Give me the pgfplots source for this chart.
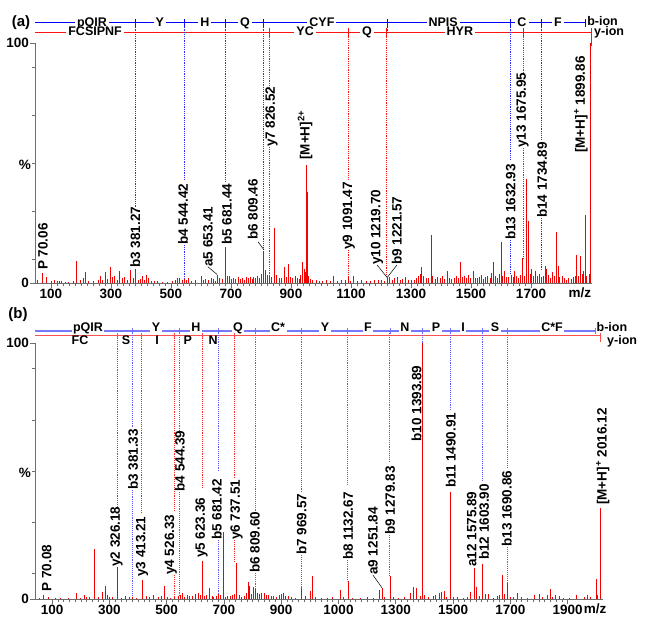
\documentclass[border=0pt]{standalone}
\usepackage{fontspec}
\setmainfont{Liberation Sans}
\usepackage{pgfplots}
\pgfplotsset{compat=1.18}
\definecolor{pkred}{RGB}{245,0,0}
\definecolor{ionblue}{RGB}{0,0,255}
\definecolor{ionred}{RGB}{250,20,20}
\definecolor{lblue}{RGB}{120,120,255}
\definecolor{lred}{RGB}{255,80,80}
\definecolor{dotblue}{RGB}{40,40,255}
\definecolor{dotblueb}{RGB}{90,90,255}
\definecolor{dred}{RGB}{255,40,40}
\definecolor{axgray}{RGB}{110,110,110}
\begin{document}
\begin{tikzpicture}[x=1pt,y=1pt,font=\fontsize{13.5}{15}\selectfont\bfseries]
\useasboundingbox (0,0) rectangle (645,627);
\pgfplotsset{
  msstyle/.style={
    scale only axis, clip=false,
    axis x line*=bottom, axis y line*=left,
    axis line style={axgray, line width=0.8pt},
    tick align=outside,
    ymin=0, ymax=100, ytick={0,100}, minor ytick={10,30,50,70,90},
    major tick length=5pt, minor tick length=3pt,
    every tick/.style={axgray, line width=0.6pt},
    minor x tick num=9,
    /pgf/number format/assume math mode=true,
    /pgf/number format/1000 sep={},
    ticklabel style={font=\fontsize{13.5}{15}\selectfont\bfseries},
    xticklabel style={inner sep=1pt},
    yticklabel style={inner sep=1pt},
    unbounded coords=jump,
  },
  pk/.style={ycomb, no marks, color=pkred, line width=0.7pt},
  dotb/.style={color=dotblue, line width=1.0pt, dash pattern=on 1.2pt off 1pt},
  dotr/.style={color=ionred, line width=0.9pt, dash pattern=on 1.2pt off 1pt},
  dotlb/.style={color=dotblueb, line width=1.0pt, dash pattern=on 1.1pt off 1pt},
  dotlr/.style={color=dred, line width=0.9pt, dash pattern=on 1.1pt off 1pt},
}
\tikzset{
  lab/.style={rotate=90, anchor=west, inner sep=0pt},
  seqa/.style={fill=white, inner xsep=2pt, inner ysep=0.3pt, text height=0.72em, text depth=0pt, font=\fontsize{12.5}{14}\selectfont\bfseries},
}

% ---------------- panel (a) ----------------
\begin{axis}[msstyle, at={(35pt,343.7pt)}, anchor=south west,
  width=557pt, height=240pt, xmin=46.7, xmax=1903.3,
  xtick={100,300,...,1700}]
\addplot[pk] coordinates {
(55,1.2) (72,4.4) (86,2.8) (101,0.8) (112,1.3) (120,1.0) (129,1.1) (136,0.9) (147,0.7) (158,0.6)
(175,0.8) (186,9.4) (199,1.2) (208,2.0) (213,4.6) (226,1.1) (241,0.9) (257,1.2) (263,3.0) (270,1.5)
(280,4.7) (289,1.8) (299,6.6) (305,2.5) (311,3.0) (320,1.4) (328,5.0) (337,2.0) (346,2.5) (355,1.3)
(366,5.5) (373,2.2) (381.27,5.8) (392,1.5) (399,1.9) (403,3.0) (410,1.2) (419,3.5) (425,2.0) (433,1.1)
(444,1.0) (456,0.8) (470,0.7) (487,0.6) (503,1.0) (516,1.4) (521,2.1) (529,2.0) (537,1.3) (544.42,2.0)
(552,1.2) (559,2.3) (568,1.0) (582,1.3) (600,3.0) (608,1.5) (615,1.9) (624,1.3) (633,2.0) (640,1.6)
(647,1.0) (653.41,3.5) (662,2.2) (670,1.8) (681.44,15.3) (688,2.9) (695,3.2) (701,1.8) (709,2.4) (716,1.9)
(723,2.6) (730,1.7) (737,2.1) (744,1.5) (751,2.8) (757,2.0) (763,2.5) (770,1.6) (776,2.7) (782,2.2)
(788,3.0) (795,2.4) (801,4.0) (809.46,13.4) (815,5.5) (821,3.6) (828,3.0) (836,2.6) (846,22.9) (852,3.5)
(860,2.4) (868,2.0) (878,6.7) (885,2.8) (892,8.0) (899,2.5) (906,2.1) (913,3.0) (920,2.2) (927,1.8)
(932,3.5) (938,8.8) (943,6.0) (947,4.5) (950.4,49.3) (953,38.0) (957,3.0) (964,1.6) (972,1.2) (985,1.5)
(993,1.0) (1005,1.1) (1018,1.3) (1030,1.0) (1041,3.0) (1055,1.0) (1069,1.4) (1080,1.2) (1091.47,2.0) (1099,1.0)
(1108,3.0) (1120,0.9) (1135,1.2) (1150,0.9) (1165,1.0) (1178,1.3) (1190,1.5) (1201,1.5) (1212,1.0) (1220.6,2.2)
(1228,2.5) (1238,1.3) (1246,2.0) (1255,2.5) (1264,1.4) (1272,1.8) (1280,2.6) (1290,1.2) (1300,1.5) (1310,1.3)
(1318,2.0) (1326,3.0) (1331,4.0) (1336,6.8) (1342,3.0) (1350,2.4) (1358,2.0) (1367,20.1) (1372,3.0) (1380,1.8)
(1389,2.6) (1398,2.2) (1405,3.0) (1412,1.8) (1420,5.0) (1428,2.4) (1435,1.7) (1443,2.2) (1450,3.0) (1458,2.0)
(1463,8.7) (1470,2.8) (1477,3.0) (1485,2.2) (1492,3.6) (1499,2.0) (1507,5.3) (1514,2.4) (1520,2.0) (1528,2.6)
(1535,3.4) (1542,1.8) (1549,2.5) (1556,3.0) (1563,2.0) (1568,4.2) (1574,8.7) (1580,3.0) (1587,2.4) (1593,4.0)
(1600,17.1) (1606,3.0) (1612,5.0) (1618,2.8) (1625,2.5) (1633,3.5) (1640,2.6) (1645,5.3) (1652,3.0) (1658,2.4)
(1664,3.5) (1672,10.4) (1679,3.0) (1686,43.4) (1691,26.0) (1697,4.0) (1702,6.0) (1708,3.0) (1714,5.3) (1720,3.0)
(1728,4.0) (1735,2.6) (1740,3.2) (1747,7.1) (1752,6.0) (1758,3.5) (1764,2.4) (1770,4.5) (1777,3.0) (1786,21.5)
(1790,7.0) (1796,2.5) (1803,3.2) (1810,2.0) (1817,1.5) (1825,2.4) (1833,1.8) (1841,2.6) (1847,3.0) (1852,11.8)
(1858,3.0) (1865,11.4) (1871,4.0) (1876,5.0) (1880,28.4) (1886,3.0) (1893,4.0)
};
% base peak [M+H]+ drawn as a plain segment
\addplot[color=pkred, line width=1.0pt] coordinates {(1899.86,0) (1899.86,100)};
% sequence lines
\addplot[color=ionblue, line width=0.9pt] coordinates {(46.7,108.5) (1881.85,108.5)};
\addplot[color=ionred, line width=0.9pt] coordinates {(46.7,104.7) (1899.86,104.7)};
\addplot[color=ionblue, line width=0.9pt] coordinates {
(381.27,106.8) (381.27,110.2) (381.27,nan)
(544.42,106.8) (544.42,110.2) (544.42,nan)
(681.44,106.8) (681.44,110.2) (681.44,nan)
(809.46,106.8) (809.46,110.2) (809.46,nan)
(1221.57,106.8) (1221.57,110.2) (1221.57,nan)
(1632.93,106.8) (1632.93,110.2) (1632.93,nan)
(1734.89,106.8) (1734.89,110.2) (1734.89,nan)
(1881.85,106.8) (1881.85,110.2)};
\addplot[color=ionred, line width=0.9pt] coordinates {
(826.52,103.2) (826.52,106.2) (826.52,nan)
(1091.47,103.2) (1091.47,106.2) (1091.47,nan)
(1219.70,103.2) (1219.70,106.2) (1219.70,nan)
(1675.95,103.2) (1675.95,106.2) (1675.95,nan)
(1899.86,99) (1899.86,106.3)};
% dotted ion lines
\addplot[dotb] coordinates {
(381.27,108.5) (381.27,31.8) (381.27,nan)
(544.42,108.5) (544.42,43) (544.42,nan) (544.42,16) (544.42,2) (544.42,nan)
(681.44,108.5) (681.44,41.8) (681.44,nan)
(809.46,108.5) (809.46,14) (809.46,nan)
(1221.57,108.5) (1221.57,104.7) (1221.57,nan)
(1632.93,108.5) (1632.93,51.4) (1632.93,nan) (1632.93,18) (1632.93,4) (1632.93,nan)
(1734.89,108.5) (1734.89,59.7) (1734.89,nan) (1734.89,27.2) (1734.89,5.7)};
\addplot[dotr] coordinates {
(826.52,104.7) (826.52,81.4) (826.52,nan) (826.52,56.8) (826.52,2.5) (826.52,nan)
(1091.47,104.7) (1091.47,43) (1091.47,nan) (1091.47,13.9) (1091.47,2) (1091.47,nan)
(1219.70,104.7) (1219.70,2.4) (1219.70,nan)
(1675.95,104.7) (1675.95,88) (1675.95,nan) (1675.95,56.4) (1675.95,10.4)};
% leader lines
\addplot[color=black, line width=0.5pt] coordinates {
(623,6.9) (653.41,3.7) (653.41,nan)
(790,17.3) (809.46,14) (809.46,nan)
(1187,7.6) (1220.6,2.4) (1253,7.6)};
% sequence letters
\node[seqa] at (axis cs:236.7,108.5) {pQIR};
\node[seqa] at (axis cs:463,108.5) {Y};
\node[seqa] at (axis cs:613,108.5) {H};
\node[seqa] at (axis cs:747,108.5) {Q};
\node[seqa] at (axis cs:1003,108.5) {CYF};
\node[seqa] at (axis cs:1407,108.5) {NPIS};
\node[seqa] at (axis cs:1670,108.5) {C};
\node[seqa] at (axis cs:1790,108.5) {F};
\node[seqa] at (axis cs:247,104.7) {FCSIPNF};
\node[seqa] at (axis cs:947,104.7) {YC};
\node[seqa] at (axis cs:1153,104.7) {Q};
\node[seqa] at (axis cs:1463,104.7) {HYR};
\node[anchor=west, inner sep=0pt, text height=0.72em, font=\fontsize{12.5}{14}\selectfont\bfseries] at (axis cs:1887,109.0) {b-ion};
\node[anchor=west, inner sep=0pt, text height=0.72em, font=\fontsize{12.5}{14}\selectfont\bfseries] at (axis cs:1910,104.2) {y-ion};
% peak labels
\node[lab] at (axis cs:73.3,5.5) {P 70.06};
\node[lab] at (axis cs:381.27,6.4) {b3 381.27};
\node[lab] at (axis cs:540,16) {b4 544.42};
\node[lab] at (axis cs:623,6.9) {a5 653.41};
\node[lab] at (axis cs:685.7,16) {b5 681.44};
\node[lab] at (axis cs:773,18) {b6 809.46};
\node[lab] at (axis cs:835,56.8) {y7 826.52};
\node[lab] at (axis cs:947,51.4) {[M+H]\textsuperscript{2+}};
\node[lab] at (axis cs:1093,13.9) {y9 1091.47};
\node[lab] at (axis cs:1187,7.6) {y10 1219.70};
\node[lab] at (axis cs:1253,7.6) {b9 1221.57};
\node[lab] at (axis cs:1632,18) {b13 1632.93};
\node[lab] at (axis cs:1672,56.4) {y13 1675.95};
\node[lab] at (axis cs:1737,27.2) {b14 1734.89};
\node[lab] at (axis cs:1866,54.3) {[M+H]\textsuperscript{+} 1899.86};
\node[anchor=north, inner sep=0pt] at (axis cs:1863,-1.9) {m/z};
\end{axis}

% ---------------- panel (b) ----------------
\begin{axis}[msstyle, at={(35pt,27.7pt)}, anchor=south west,
  width=568pt, height=256.3pt, xmin=39.9, xmax=2023.9,
  xtick={100,300,...,1900},
  xticklabels={100,300,500,700,900,1000,1300,1500,1700,1900}]
\addplot[pk] coordinates {
(55,0.6) (70.08,1.7) (85,0.8) (110,0.6) (130,0.5) (155,0.7) (183,2.3) (199,0.6) (213,1.5) (219,1.0)
(230,0.8) (246,19.5) (262,0.8) (274,2.8) (286,5.0) (293,1.8) (300,1.0) (311,0.8) (326.18,12.5) (343,0.6)
(356,1.2) (370,1.0) (381.33,1.0) (395,0.7) (413.21,7.5) (428,1.2) (440,0.9) (454,1.5) (470,0.8) (480,1.4)
(493,5.2) (503,0.8) (514,0.7) (526.33,1.0) (540,1.4) (547,1.8) (555,2.3) (562,1.0) (572,1.5) (580,1.2)
(591,1.4) (600,2.0) (610,2.6) (616,1.5) (623.36,15.0) (632,1.2) (640,1.8) (650,4.6) (658,1.4) (664,1.0)
(672,1.2) (681.42,2.3) (688,1.6) (697,26.4) (705,1.0) (713,1.4) (722,1.2) (730,1.6) (737.51,2.0) (744,14.3)
(752,1.5) (760,1.0) (770,1.3) (778,2.4) (785,6.9) (790,5.0) (797,2.0) (804,4.8) (809.6,4.5) (817,2.6)
(824,2.0) (832,2.5) (840,2.4) (848,1.5) (856,1.6) (864,1.2) (872,1.4) (882,1.0) (892,1.6) (902,2.0)
(908,2.3) (916,1.4) (925,1.1) (935,1.0) (948,0.7) (969.57,4.3) (985,1.2) (1001,3.3) (1008,9.1) (1018,0.9)
(1040,0.7) (1060,0.6) (1080,1.0) (1105,3.6) (1118,0.8) (1132.67,7.1) (1150,0.7) (1175,0.6) (1200,0.8) (1220,0.6)
(1243,3.8) (1251.84,4.3) (1260,1.0) (1279.83,9.1) (1292,0.8) (1310,0.7) (1330,1.0) (1350,2.5) (1362,4.8) (1372,4.3)
(1386,1.2) (1400,1.5) (1415,0.8) (1430,1.2) (1440,1.8) (1452,2.5) (1460,3.0) (1468,3.2) (1478,1.0)
(1490.91,41.9) (1500,1.0) (1515,0.8) (1535,0.7) (1550,1.0) (1562,3.0) (1575.89,12.1) (1583,4.8) (1592,1.2) (1603.9,13.7)
(1612,2.0) (1622,2.2) (1640,0.7) (1655,1.4) (1662,1.8) (1674,9.4) (1680,2.0) (1690.86,6.2) (1700,1.0) (1710,0.8)
(1725,2.5) (1740,0.8) (1760,0.7) (1785,1.5) (1800,2.0) (1812,0.8) (1828,1.8) (1840,4.2) (1847,1.0) (1856,1.6)
(1870,1.4) (1885,0.7) (1905,0.6) (1930,1.5) (1958,0.8) (1970,1.5) (1978,1.0) (2000,7.8) (2005,1.5) (2016.12,35.5)
};
\addplot[color=pkred, line width=1.0pt] coordinates {(1393.89,0) (1393.89,100)};
% sequence lines
\addplot[color=lblue, line width=1.4pt] coordinates {(39.9,104.7) (1998.1,104.7)};
\addplot[color=lred, line width=1.0pt] coordinates {(39.9,102.8) (2016.12,102.8)};
\addplot[color=lblue, line width=0.9pt] coordinates {
(381.33,103.7) (381.33,105.7) (381.33,nan)
(544.39,103.7) (544.39,105.7) (544.39,nan)
(681.42,103.7) (681.42,105.7) (681.42,nan)
(809.60,103.7) (809.60,105.7) (809.60,nan)
(969.57,103.7) (969.57,105.7) (969.57,nan)
(1132.67,103.7) (1132.67,105.7) (1132.67,nan)
(1279.83,103.7) (1279.83,105.7) (1279.83,nan)
(1393.89,103.7) (1393.89,105.7) (1393.89,nan)
(1490.91,103.7) (1490.91,105.7) (1490.91,nan)
(1603.90,103.7) (1603.90,105.7) (1603.90,nan)
(1690.86,103.7) (1690.86,105.7) (1690.86,nan)
(1998.1,103.7) (1998.1,105.7)};
\addplot[color=lred, line width=0.9pt] coordinates {
(326.18,101.8) (326.18,103.8) (326.18,nan)
(413.21,101.8) (413.21,103.8) (413.21,nan)
(526.33,101.8) (526.33,103.8) (526.33,nan)
(623.36,101.8) (623.36,103.8) (623.36,nan)
(737.51,101.8) (737.51,103.8) (737.51,nan)
(2016.12,100.4) (2016.12,104)};
% dotted ion lines
\addplot[dotlb] coordinates {
(381.33,104.7) (381.33,67.2) (381.33,nan) (381.33,42.6) (381.33,1.0) (381.33,nan)
(544.39,104.7) (544.39,65.4) (544.39,nan) (544.39,42) (544.39,1.8) (544.39,nan)
(681.42,104.7) (681.42,50.4) (681.42,nan) (681.42,23.1) (681.42,2.3) (681.42,nan)
(809.60,104.7) (809.60,34.2) (809.60,nan) (809.60,10.3) (809.60,4.5) (809.60,nan)
(969.57,104.7) (969.57,42) (969.57,nan) (969.57,17.3) (969.57,4.3) (969.57,nan)
(1132.67,104.7) (1132.67,44.6) (1132.67,nan) (1132.67,15.3) (1132.67,7.1) (1132.67,nan)
(1279.83,104.7) (1279.83,53.7) (1279.83,nan) (1279.83,25.1) (1279.83,9.1) (1279.83,nan)
(1393.89,104.7) (1393.89,100) (1393.89,nan)
(1490.91,104.7) (1490.91,73.9) (1490.91,nan)
(1603.90,104.7) (1603.90,45.9) (1603.90,nan)
(1690.86,104.7) (1690.86,51.2) (1690.86,nan) (1690.86,20.5) (1690.86,6.2)};
\addplot[dotlr] coordinates {
(326.18,102.8) (326.18,36.1) (326.18,nan)
(413.21,102.8) (413.21,33.7) (413.21,nan)
(526.33,102.8) (526.33,34.2) (526.33,nan) (526.33,9.5) (526.33,1.0) (526.33,nan)
(623.36,102.8) (623.36,43.4) (623.36,nan)
(737.51,102.8) (737.51,47.3) (737.51,nan) (737.51,23.1) (737.51,14.3)};
% leader line
\addplot[color=black, line width=0.5pt] coordinates {(1220,9.5) (1251.84,4.5)};
% sequence letters
\tikzset{seqb/.style={fill=white, anchor=base, inner xsep=1.5pt, inner ysep=0.5pt, text depth=0pt, font=\fontsize{12.5}{14}\selectfont\bfseries}}
\node[seqb] at (axis cs:225,104.4) {pQIR};
\node[seqb] at (axis cs:463,104.4) {Y};
\node[seqb] at (axis cs:602,104.4) {H};
\node[seqb] at (axis cs:749,104.4) {Q};
\node[seqb] at (axis cs:889,104.4) {C*};
\node[seqb] at (axis cs:1053,104.4) {Y};
\node[seqb] at (axis cs:1203,104.4) {F};
\node[seqb] at (axis cs:1332,104.4) {N};
\node[seqb] at (axis cs:1441,104.4) {P};
\node[seqb] at (axis cs:1535,104.4) {I};
\node[seqb] at (axis cs:1647,104.4) {S};
\node[seqb] at (axis cs:1846,104.4) {C*F};
\node[anchor=base west, inner sep=0pt, font=\fontsize{12.5}{14}\selectfont\bfseries] at (axis cs:2001,104.4) {b-ion};
\tikzset{seqr/.style={anchor=north, inner sep=0pt, text height=0.72em, text depth=0pt, font=\fontsize{12.5}{14}\selectfont\bfseries}}
\node[seqr] at (axis cs:197,102.2) {FC};
\node[seqr] at (axis cs:358,102.2) {S};
\node[seqr] at (axis cs:466,102.2) {I};
\node[seqr] at (axis cs:574,102.2) {P};
\node[seqr] at (axis cs:662,102.2) {N};
\node[seqr, anchor=north west] at (axis cs:2038,102.2) {y-ion};
% peak labels
\node[lab] at (axis cs:81,3.0) {P 70.08};
\node[lab] at (axis cs:325,12.7) {y2 326.18};
\node[lab] at (axis cs:382,42.6) {b3 381.33};
\node[lab] at (axis cs:414,8.8) {y3 413.21};
\node[lab] at (axis cs:514,9.5) {y4 526.33};
\node[lab] at (axis cs:546,42) {b4 544.39};
\node[lab] at (axis cs:622,16.1) {y5 623.36};
\node[lab] at (axis cs:675,23.1) {b5 681.42};
\node[lab] at (axis cs:744,23.1) {y6 737.51};
\node[lab] at (axis cs:808,10.3) {b6 809.60};
\node[lab] at (axis cs:971,17.3) {b7 969.57};
\node[lab] at (axis cs:1133,15.3) {b8 1132.67};
\node[lab] at (axis cs:1220,9.5) {a9 1251.84};
\node[lab] at (axis cs:1280,25.1) {b9 1279.83};
\node[lab] at (axis cs:1373,61.5) {b10 1393.89};
\node[lab] at (axis cs:1492,43.4) {b11 1490.91};
\node[lab] at (axis cs:1565,12.7) {a12 1575.89};
\node[lab] at (axis cs:1608,15.3) {b12 1603.90};
\node[lab] at (axis cs:1688,20.5) {b13 1690.86};
\node[lab] at (axis cs:2023,36.8) {[M+H]\textsuperscript{+} 2016.12};
\node[anchor=north, inner sep=0pt] at (axis cs:1996,-1.8) {m/z};
\end{axis}

% panel tags and y labels
\node[font=\fontsize{15}{17}\selectfont\bfseries] at (21,604) {(a)};
\node[font=\fontsize{15}{17}\selectfont\bfseries] at (18,312) {(b)};
\node at (25,462) {\%};
\node at (25,154) {\%};
\end{tikzpicture}
\end{document}
